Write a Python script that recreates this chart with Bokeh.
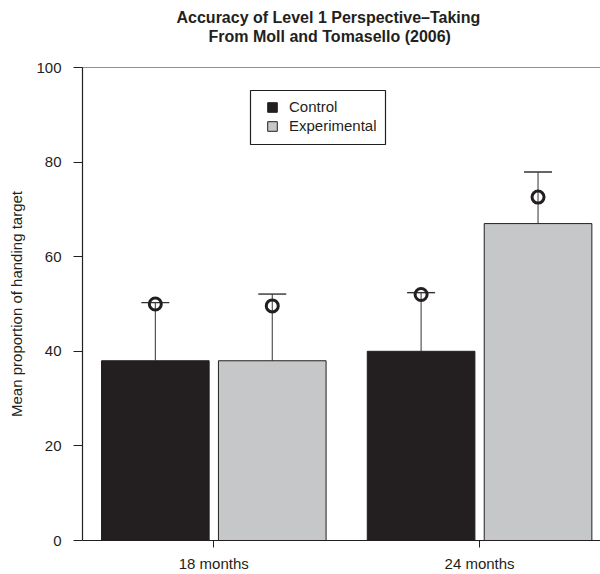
from bokeh.plotting import figure
from bokeh.models import (Range1d, FixedTicker, ColumnDataSource, Span, Legend,
                          LegendItem, Title, BoxAnnotation)
from bokeh.transform import dodge
from bokeh.embed import file_html
from bokeh.resources import INLINE

# ---- data ----
categories = ["18 months", "24 months"]
control = [38, 40]
experimental = [38, 67]
control_err_top = [50.3, 52.4]
experimental_err_top = [52.1, 77.9]
control_point = [50.0, 52.0]
experimental_point = [49.6, 72.6]
y_ticks = [0, 20, 40, 60, 80, 100]
title_lines = ["Accuracy of Level 1 Perspective\u2013Taking",
               "From Moll and Tomasello (2006)"]
y_label = "Mean proportion of handing target"

FONT = "Liberation Sans"
INK = "#231f20"
DARK = "#231f20"
GREY = "#c6c7c9"

xpos = list(range(1, len(categories) + 1))
src = ColumnDataSource(dict(
    x=xpos, control=control, experimental=experimental,
    control_err=control_err_top, experimental_err=experimental_err_top,
    control_pt=control_point, experimental_pt=experimental_point,
))

p = figure(width=600, height=574,
           x_range=Range1d(0.506, 2.455), y_range=Range1d(0, 100),
           output_backend="svg", toolbar_location=None,
           min_border_left=82, min_border_right=0,
           min_border_top=67, min_border_bottom=33)
p.background_fill_color = "white"
p.border_fill_color = "white"
p.outline_line_color = None
p.xgrid.grid_line_color = None
p.ygrid.grid_line_color = None

off = 0.22
w = 0.405
r_c = p.vbar(x=dodge("x", -off, range=p.x_range), top="control", width=w,
             bottom=0, source=src, fill_color=DARK, line_color=INK, line_width=1)
r_e = p.vbar(x=dodge("x", off, range=p.x_range), top="experimental", width=w,
             bottom=0, source=src, fill_color=GREY, line_color=INK, line_width=1)

# error bars (upper only) and the hollow circle markers
for col, top, pt, o in [("control", "control_err", "control_pt", -off),
                        ("experimental", "experimental_err", "experimental_pt", off)]:
    p.segment(x0=dodge("x", o), y0=col, x1=dodge("x", o), y1=top, source=src,
              line_color="#333333", line_width=1)
    p.scatter(x=dodge("x", o), y=top, source=src, marker="dash", size=28,
              line_color="#333333", line_width=1.4)
    p.scatter(x=dodge("x", o), y=pt, source=src, marker="circle", size=12,
              fill_alpha=0, line_color=INK, line_width=3)

p.add_layout(Span(location=100, dimension="width", line_color=INK, line_width=1.2))

# axes
for ax in (p.xaxis[0], p.yaxis[0]):
    ax.axis_line_color = INK
    ax.axis_line_width = 1.2
    ax.major_tick_line_color = INK
    ax.major_tick_line_width = 1
    ax.minor_tick_line_color = None
    ax.major_tick_in = 0
    ax.major_label_text_font = FONT
    ax.major_label_text_font_size = "15px"
    ax.major_label_text_color = INK

p.yaxis.ticker = FixedTicker(ticks=y_ticks)
p.yaxis.major_tick_out = 9
p.yaxis.major_label_standoff = 12
p.yaxis.axis_label = y_label
p.yaxis.axis_label_text_font = FONT
p.yaxis.axis_label_text_font_size = "15px"
p.yaxis.axis_label_text_font_style = "normal"
p.yaxis.axis_label_text_color = INK
p.yaxis.axis_label_standoff = 8

p.xaxis.ticker = FixedTicker(ticks=xpos)
p.xaxis.major_label_overrides = {x: c for x, c in zip(xpos, categories)}
p.xaxis.major_tick_out = 7
p.xaxis.major_label_standoff = 7

# legend: items without frame, plus a box drawn around them
legend = Legend(items=[LegendItem(label="Control", renderers=[r_c]),
                       LegendItem(label="Experimental", renderers=[r_e])],
                location=(184, 405))
legend.border_line_color = None
legend.background_fill_alpha = 0
legend.label_text_font = FONT
legend.label_text_font_size = "15px"
legend.label_text_color = INK
legend.glyph_width = 12
legend.glyph_height = 12
legend.padding = 0
legend.spacing = 0
legend.label_height = 19
legend.label_standoff = 11
legend.margin = 0
p.add_layout(legend)
p.add_layout(BoxAnnotation(left=168, right=303, bottom=396, top=450,
                           left_units="screen", right_units="screen",
                           bottom_units="screen", top_units="screen",
                           fill_alpha=0, line_color=INK, line_width=1.2,
                           line_alpha=1))

# two title lines, each centred over x = 329 px as in the reference;
# a blank spacer title keeps them clear of the plot frame
p.title.text = ""
title_style = dict(align="left", vertical_align="bottom", text_font=FONT,
                   text_font_size="16px", text_font_style="bold", text_color=INK)
spacer = Title(text="\u00a0", standoff=4, **title_style)
t2 = Title(text=title_lines[1], offset=126, standoff=0, **title_style)
t1 = Title(text=title_lines[0], offset=94, standoff=0, **title_style)
p.add_layout(spacer, "above")
p.add_layout(t2, "above")
p.add_layout(t1, "above")

open("out.html", "w").write(file_html(p, INLINE))
